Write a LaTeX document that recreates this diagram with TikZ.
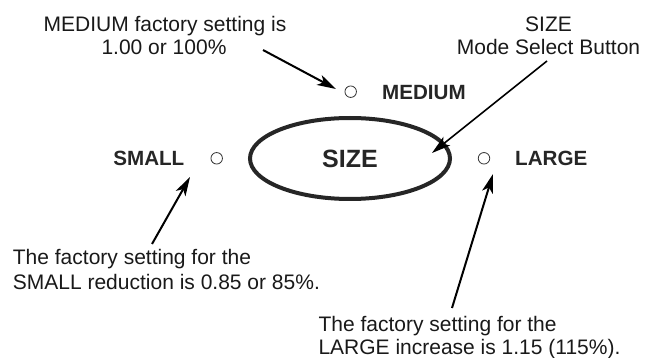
\documentclass[tikz,border=0pt]{standalone}
\usepackage{fontspec}
\setmainfont{Liberation Sans}
\usetikzlibrary{arrows.meta,shapes.geometric}
\tikzset{
  note/.style={font=\fontsize{21}{24}\selectfont, inner sep=0pt, text=black!90},
  lbl/.style={font=\bfseries\fontsize{20.6}{24}\selectfont, inner sep=0pt, text=black!85},
  dot/.style={circle, draw=black!80, line width=0.8pt, minimum size=11.5pt, inner sep=0pt},
  ptr/.style={-{Stealth[length=19pt,width=11pt,inset=5pt]}, line width=2pt, draw=black},
}
\begin{document}
\begin{tikzpicture}[x=1pt,y=-1pt]
\useasboundingbox (0,0) rectangle (646,358);
% top-left note
\node[note, anchor=base] (mt1) at (165,31.5) {MEDIUM factory setting is};
\node[note, anchor=base] (mt2) at (164,55) {1.00 or 100\%};
% top-right note
\node[note, anchor=base] (st1) at (548.5,31.5) {SIZE};
\node[note, anchor=base] (st2) at (548.5,55) {Mode Select Button};
% button
\node[ellipse, draw=black!85, line width=4pt, minimum width=200pt, minimum height=81pt, inner sep=0pt,
      font=\bfseries\fontsize{25}{28}\selectfont, text=black!85] (btn) at (350,158.5) {SIZE};
% indicators
\node[dot] (medc) at (350.7,91.7) {};
\node[dot] (smc) at (216.7,158.3) {};
\node[dot] (lgc) at (484,158.3) {};
\node[lbl, anchor=base west] (medl) at (382,99.5) {MEDIUM};
\node[lbl, anchor=base east] (sml) at (184.5,166) {SMALL};
\node[lbl, anchor=base west] (lgl) at (515,166) {LARGE};
% bottom notes
\node[note, anchor=base west] (sb1) at (12.7,265) {The factory setting for the};
\node[note, anchor=base west] (sb2) at (12.7,289.3) {SMALL reduction is 0.85 or 85\%.};
\node[note, anchor=base west] (lb1) at (318.3,331.7) {The factory setting for the};
\node[note, anchor=base west] (lb2) at (318.3,355) {LARGE increase is 1.15 (115\%).};
% arrow ends
\coordinate (mtail) at (263,50);
\coordinate (mtip) at (336,89);
\coordinate (stail) at (547,61);
\coordinate (stip) at (432,153);
\coordinate (smtail) at (152,244);
\coordinate (smtip) at (190,177);
\coordinate (lgtail) at (452,308);
\coordinate (lgtip) at (493,174);
\draw[ptr] (mtail) -- (mtip);
\draw[ptr, line width=1.6pt] (stail) -- (stip);
\draw[ptr] (smtail) -- (smtip);
\draw[ptr] (lgtail) -- (lgtip);
\end{tikzpicture}
\end{document}
